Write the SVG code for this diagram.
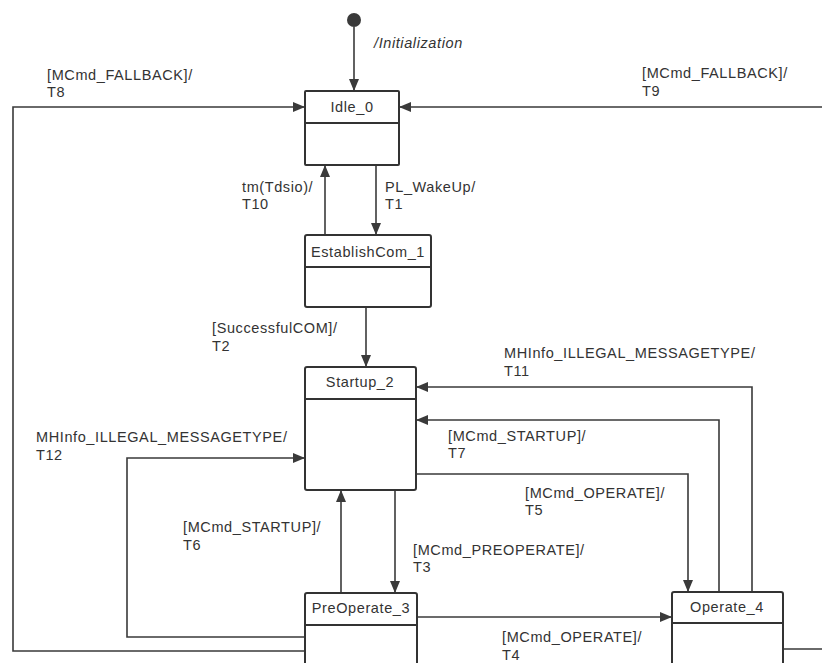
<svg xmlns="http://www.w3.org/2000/svg" width="822" height="663" viewBox="0 0 822 663">
<style>
text{font-family:"Liberation Sans",Arial,sans-serif;font-size:14.5px;letter-spacing:0.6px;fill:#333}
.t{text-anchor:middle}
.box{fill:#fff;stroke:#333;stroke-width:2}
.div{stroke:#333;stroke-width:2}
.c{fill:none;stroke:#3a3a3a;stroke-width:1.6}
</style>
<defs>
<marker id="ah" markerUnits="userSpaceOnUse" markerWidth="12" markerHeight="10" refX="12" refY="5" orient="auto">
<path d="M0,0 L12,5 L0,10 Z" fill="#3a3a3a"/>
</marker>
</defs>
<rect width="822" height="663" fill="#fff"/>
<g id="connectors">
<circle cx="354" cy="20" r="7" fill="#3a3a3a"/>
<path class="c" d="M354,27 V91" marker-end="url(#ah)"/>
<path class="c" d="M305,651 H13 V107 H305" marker-end="url(#ah)"/>
<path class="c" d="M783,649 H830 V107 H399" marker-end="url(#ah)"/>
<path class="c" d="M325,235 V165" marker-end="url(#ah)"/>
<path class="c" d="M376,165 V235" marker-end="url(#ah)"/>
<path class="c" d="M366,307 V367" marker-end="url(#ah)"/>
<path class="c" d="M752,592 V387 H416" marker-end="url(#ah)"/>
<path class="c" d="M719,592 V420 H416" marker-end="url(#ah)"/>
<path class="c" d="M416,474 H688 V592" marker-end="url(#ah)"/>
<path class="c" d="M305,637 H127 V458 H305" marker-end="url(#ah)"/>
<path class="c" d="M341,593 V490" marker-end="url(#ah)"/>
<path class="c" d="M395,490 V593" marker-end="url(#ah)"/>
<path class="c" d="M417,617 H672" marker-end="url(#ah)"/>
<text x="374" y="48" font-style="italic">/Initialization</text>
<text x="47" y="80">[MCmd_FALLBACK]/</text><text x="47" y="97">T8</text>
<text x="642" y="78">[MCmd_FALLBACK]/</text><text x="642" y="96">T9</text>
<text x="242" y="192">tm(Tdsio)/</text><text x="242" y="209">T10</text>
<text x="385" y="192">PL_WakeUp/</text><text x="385" y="209">T1</text>
<text x="212" y="333">[SuccessfulCOM]/</text><text x="212" y="351">T2</text>
<text x="504" y="358">MHInfo_ILLEGAL_MESSAGETYPE/</text><text x="504" y="376">T11</text>
<text x="448" y="441">[MCmd_STARTUP]/</text><text x="448" y="458">T7</text>
<text x="525" y="498">[MCmd_OPERATE]/</text><text x="525" y="515">T5</text>
<text x="36" y="442">MHInfo_ILLEGAL_MESSAGETYPE/</text><text x="36" y="460">T12</text>
<text x="183" y="532">[MCmd_STARTUP]/</text><text x="183" y="550">T6</text>
<text x="413" y="555">[MCmd_PREOPERATE]/</text><text x="413" y="572">T3</text>
<text x="502" y="642">[MCmd_OPERATE]/</text><text x="502" y="660">T4</text>
</g>
<g id="idle_0">
<rect class="box" x="305" y="91" width="94" height="74" rx="1"/>
<line class="div" x1="305" y1="123" x2="399" y2="123"/>
<text class="t" x="352" y="112">Idle_0</text>
</g>
<g id="establishcom_1">
<rect class="box" x="305" y="235" width="126" height="72" rx="2"/>
<line class="div" x1="305" y1="267" x2="431" y2="267"/>
<text class="t" x="368" y="257">EstablishCom_1</text>
</g>
<g id="startup_2">
<rect class="box" x="305" y="367" width="111" height="123" rx="2"/>
<line class="div" x1="305" y1="399" x2="416" y2="399"/>
<text class="t" x="360" y="387">Startup_2</text>
</g>
<g id="preoperate_3">
<rect class="box" x="305" y="593" width="112" height="90" rx="2"/>
<line class="div" x1="305" y1="625" x2="417" y2="625"/>
<text class="t" x="361" y="613">PreOperate_3</text>
</g>
<g id="operate_4">
<rect class="box" x="672" y="592" width="111" height="90" rx="2"/>
<line class="div" x1="672" y1="623" x2="783" y2="623"/>
<text class="t" x="727" y="612">Operate_4</text>
</g>
</svg>
